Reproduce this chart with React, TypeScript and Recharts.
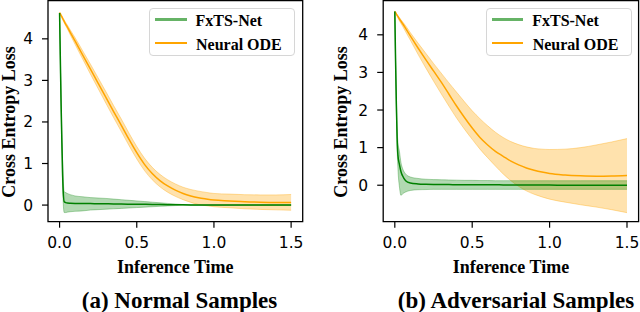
import React from 'react';
import { ComposedChart, Area, Line, XAxis, YAxis, ReferenceArea } from 'recharts';

const TIME = [0, 0.005, 0.01, 0.015, 0.02, 0.03, 0.04, 0.05, 0.07, 0.1, 0.15, 0.2, 0.25, 0.3, 0.35, 0.4, 0.45, 0.5, 0.55, 0.6, 0.65, 0.7, 0.75, 0.8, 0.85, 0.9, 0.95, 1.0, 1.1, 1.2, 1.3, 1.4, 1.5];

// (a) Normal samples
const FXTS_MEAN_A = [4.62, 3.5, 2.4, 1.5, 0.7, 0.08, 0.06, 0.05, 0.045, 0.04, 0.037, 0.035, 0.032, 0.03, 0.028, 0.025, 0.022, 0.02, 0.018, 0.015, 0.012, 0.01, 0.008, 0.005, 0.003, 0.001, 0, 0, 0, 0, 0, 0, 0];
const FXTS_LO_A = [4.62, 3.4, 2.3, 1.3, 0.4, -0.18, -0.18, -0.17, -0.16, -0.15, -0.14, -0.12, -0.11, -0.1, -0.09, -0.08, -0.07, -0.06, -0.05, -0.04, -0.03, -0.02, -0.012, -0.006, -0.003, -0.002, -0.002, -0.002, -0.002, -0.002, -0.002, -0.002, -0.002];
const FXTS_HI_A = [4.62, 3.6, 2.5, 1.7, 1.0, 0.32, 0.3, 0.28, 0.25, 0.22, 0.2, 0.18, 0.17, 0.16, 0.145, 0.13, 0.115, 0.1, 0.085, 0.07, 0.055, 0.04, 0.025, 0.012, 0.006, 0.004, 0.003, 0.003, 0.003, 0.003, 0.003, 0.003, 0.003];
const ODE_MEAN_A = [4.63, 4.6, 4.56, 4.53, 4.49, 4.42, 4.35, 4.29, 4.15, 3.95, 3.61, 3.27, 2.93, 2.59, 2.25, 1.92, 1.58, 1.26, 0.98, 0.76, 0.59, 0.46, 0.36, 0.28, 0.22, 0.175, 0.145, 0.12, 0.1, 0.08, 0.07, 0.065, 0.065];
const ODE_LO_A = [4.62, 4.585, 4.54, 4.505, 4.46, 4.385, 4.31, 4.245, 4.09, 3.87, 3.51, 3.15, 2.8, 2.45, 2.105, 1.77, 1.43, 1.11, 0.83, 0.61, 0.44, 0.31, 0.21, 0.13, 0.065, 0.015, -0.015, -0.04, -0.065, -0.09, -0.105, -0.115, -0.125];
const ODE_HI_A = [4.64, 4.615, 4.58, 4.555, 4.52, 4.455, 4.39, 4.335, 4.21, 4.03, 3.71, 3.39, 3.06, 2.73, 2.395, 2.07, 1.73, 1.41, 1.13, 0.91, 0.74, 0.61, 0.51, 0.43, 0.375, 0.335, 0.305, 0.28, 0.265, 0.25, 0.245, 0.245, 0.255];

// (b) Adversarial samples
const FXTS_MEAN_B = [4.62, 3.3, 2.15, 1.25, 0.8, 0.55, 0.36, 0.25, 0.12, 0.06, 0.035, 0.025, 0.02, 0.018, 0.016, 0.015, 0.014, 0.013, 0.012, 0.011, 0.01, 0.009, 0.008, 0.007, 0.006, 0.005, 0.004, 0.003, 0.002, 0.001, 0, 0, 0];
const FXTS_LO_B = [4.62, 3.2, 2.0, 1.0, 0.45, -0.05, -0.27, -0.23, -0.18, -0.14, -0.12, -0.115, -0.11, -0.11, -0.11, -0.11, -0.11, -0.11, -0.11, -0.11, -0.11, -0.11, -0.11, -0.11, -0.11, -0.11, -0.11, -0.11, -0.11, -0.11, -0.11, -0.11, -0.11];
const FXTS_HI_B = [4.62, 3.4, 2.3, 1.5, 1.15, 0.9, 0.6, 0.45, 0.3, 0.22, 0.18, 0.16, 0.15, 0.145, 0.14, 0.135, 0.13, 0.13, 0.125, 0.125, 0.12, 0.12, 0.12, 0.12, 0.12, 0.12, 0.12, 0.12, 0.12, 0.12, 0.12, 0.12, 0.12];
const ODE_MEAN_B = [4.62, 4.59, 4.55, 4.52, 4.49, 4.42, 4.36, 4.3, 4.17, 3.97, 3.65, 3.34, 3.04, 2.74, 2.42, 2.1, 1.8, 1.52, 1.27, 1.07, 0.9, 0.77, 0.64, 0.54, 0.46, 0.4, 0.35, 0.31, 0.27, 0.25, 0.24, 0.245, 0.26];
const ODE_LO_B = [4.62, 4.58, 4.53, 4.49, 4.45, 4.37, 4.3, 4.23, 4.08, 3.86, 3.48, 3.12, 2.77, 2.43, 2.1, 1.78, 1.49, 1.22, 0.96, 0.73, 0.51, 0.3, 0.12, -0.03, -0.15, -0.24, -0.31, -0.37, -0.45, -0.52, -0.58, -0.65, -0.73];
const ODE_HI_B = [4.62, 4.6, 4.57, 4.54, 4.51, 4.46, 4.4, 4.35, 4.24, 4.06, 3.78, 3.51, 3.24, 2.98, 2.72, 2.47, 2.22, 1.98, 1.77, 1.58, 1.41, 1.27, 1.16, 1.08, 1.02, 0.98, 0.96, 0.95, 0.96, 1.0, 1.07, 1.15, 1.24];

const X_TICKS = [0, 0.5, 1.0, 1.5];
const Y_TICKS = [0, 1, 2, 3, 4];
const SERIES_NAMES = ['FxTS-Net', 'Neural ODE'];
const X_TITLE = 'Inference Time';
const Y_TITLE = 'Cross Entropy Loss';
const CAPTIONS = ['(a) Normal Samples', '(b) Adversarial Samples'];

const GREEN = '#008000';
const ORANGE = '#FFA500';
const SERIF = '"Liberation Serif", "Times New Roman", serif';
const SANS = '"DejaVu Sans", sans-serif';

function buildRows(fm: number[], fl: number[], fh: number[], om: number[], ol: number[], oh: number[]) {
  return TIME.map((t, i) => ({
    t,
    fxts: fm[i],
    fxtsBand: [fl[i], fh[i]],
    ode: om[i],
    odeBand: [ol[i], oh[i]],
  }));
}

const ROWS_A = buildRows(FXTS_MEAN_A, FXTS_LO_A, FXTS_HI_A, ODE_MEAN_A, ODE_LO_A, ODE_HI_A);
const ROWS_B = buildRows(FXTS_MEAN_B, FXTS_LO_B, FXTS_HI_B, ODE_MEAN_B, ODE_LO_B, ODE_HI_B);

const X_DOMAIN: [number, number] = [-0.075, 1.575];

type PanelProps = {
  left: number;
  rows: any[];
  yDomain: [number, number];
  marginLeft: number;
  marginRight: number;
  plotLeft: number;
  plotRight: number;
  caption: string;
  captionCenter: number;
  yTitleX: number;
};

function Legend2({ x }: { x: number }) {
  return (
    <div
      style={{
        position: 'absolute',
        left: x,
        top: 8.3,
        width: 146,
        height: 47.5,
        boxSizing: 'border-box',
        border: '1px solid #d6d6d6',
        borderRadius: 4,
        background: 'rgba(255,255,255,0.85)',
      }}
    >
      <div style={{ position: 'absolute', left: 5, top: 9.2, width: 31.7, height: 3, background: GREEN, opacity: 0.6 }} />
      <div style={{ position: 'absolute', left: 45.5, top: 4.2, fontFamily: SERIF, fontWeight: 'bold', fontSize: 16, lineHeight: '16px', whiteSpace: 'nowrap', color: '#000' }}>
        {SERIES_NAMES[0]}
      </div>
      <div style={{ position: 'absolute', left: 5, top: 33.2, width: 31.7, height: 1.5, background: ORANGE }} />
      <div style={{ position: 'absolute', left: 46, top: 27.4, fontFamily: SERIF, fontWeight: 'bold', fontSize: 16, lineHeight: '16px', whiteSpace: 'nowrap', color: '#000' }}>
        {SERIES_NAMES[1]}
      </div>
    </div>
  );
}

function Panel(p: PanelProps) {
  const plotCenter = (p.plotLeft + p.plotRight) / 2;
  return (
    <>
      <div style={{ position: 'absolute', left: p.left, top: 0 }}>
        <ComposedChart
          width={320}
          height={312}
          data={p.rows}
          margin={{ top: 0.6, right: p.marginRight, bottom: 60.3, left: p.marginLeft }}
        >
          <XAxis
            dataKey="t"
            type="number"
            domain={X_DOMAIN}
            ticks={X_TICKS}
            allowDataOverflow
            height={30}
            axisLine={false}
            tickSize={6}
            tickMargin={9}
            tickLine={{ stroke: '#000', strokeWidth: 1.2 }}
            tick={{ fill: '#000', fontSize: 15.5, fontFamily: SANS }}
            tickFormatter={(v: number) => v.toFixed(1)}
          />
          <YAxis
            type="number"
            domain={p.yDomain}
            ticks={Y_TICKS}
            allowDataOverflow
            width={40}
            axisLine={false}
            tickSize={6}
            tickMargin={9}
            tickLine={{ stroke: '#000', strokeWidth: 1.2 }}
            tick={{ fill: '#000', fontSize: 15.5, fontFamily: SANS }}
          />
          <Area
            dataKey="odeBand"
            type="monotone"
            fill={ORANGE}
            fillOpacity={0.32}
            stroke={ORANGE}
            strokeOpacity={0.35}
            strokeWidth={1}
            isAnimationActive={false}
            activeDot={false}
            dot={false}
          />
          <Area
            dataKey="fxtsBand"
            type="monotone"
            fill={GREEN}
            fillOpacity={0.3}
            stroke={GREEN}
            strokeOpacity={0.3}
            strokeWidth={1}
            isAnimationActive={false}
            activeDot={false}
            dot={false}
          />
          <Line dataKey="ode" name={SERIES_NAMES[1]} type="monotone" stroke={ORANGE} strokeWidth={1.5} dot={false} activeDot={false} isAnimationActive={false} />
          <Line dataKey="fxts" name={SERIES_NAMES[0]} type="monotone" stroke={GREEN} strokeWidth={1.5} dot={false} activeDot={false} isAnimationActive={false} />
          <ReferenceArea
            x1={X_DOMAIN[0]}
            x2={X_DOMAIN[1]}
            y1={p.yDomain[0]}
            y2={p.yDomain[1]}
            fill="none"
            fillOpacity={0}
            stroke="#000"
            strokeWidth={1.3}
            ifOverflow="visible"
          />
        </ComposedChart>
      </div>
      <div
        style={{
          position: 'absolute',
          left: p.yTitleX,
          top: 121.5,
          transform: 'translate(-50%, -50%) rotate(-90deg)',
          fontFamily: SERIF,
          fontWeight: 'bold',
          fontSize: 18,
          lineHeight: '18px',
          whiteSpace: 'nowrap',
          color: '#000',
        }}
      >
        {Y_TITLE}
      </div>
      <div
        style={{
          position: 'absolute',
          left: plotCenter - 100,
          width: 200,
          textAlign: 'center',
          top: 258.2,
          fontFamily: SERIF,
          fontWeight: 'bold',
          fontSize: 18,
          lineHeight: '18px',
          whiteSpace: 'nowrap',
          color: '#000',
        }}
      >
        {X_TITLE}
      </div>
      <div
        style={{
          position: 'absolute',
          left: p.captionCenter - 150,
          width: 300,
          textAlign: 'center',
          top: 289.3,
          fontFamily: SERIF,
          fontWeight: 'bold',
          fontSize: 23,
          lineHeight: '23px',
          whiteSpace: 'nowrap',
          color: '#000',
        }}
      >
        {p.caption}
      </div>
    </>
  );
}

export default function App() {
  return (
    <div style={{ position: 'absolute', left: 0, top: 0, width: 640, height: 312, background: '#fff', overflow: 'hidden' }}>
      <Panel
        left={0}
        rows={ROWS_A}
        yDomain={[-0.4, 4.92]}
        marginLeft={8}
        marginRight={17.3}
        plotLeft={48}
        plotRight={302.7}
        caption={CAPTIONS[0]}
        captionCenter={179.5}
        yTitleX={9}
      />
      <Panel
        left={320}
        rows={ROWS_B}
        yDomain={[-0.97, 4.91]}
        marginLeft={23.2}
        marginRight={1.4}
        plotLeft={383.2}
        plotRight={638.6}
        caption={CAPTIONS[1]}
        captionCenter={516}
        yTitleX={341}
      />
      <Legend2 x={149} />
      <Legend2 x={485.7} />
    </div>
  );
}
